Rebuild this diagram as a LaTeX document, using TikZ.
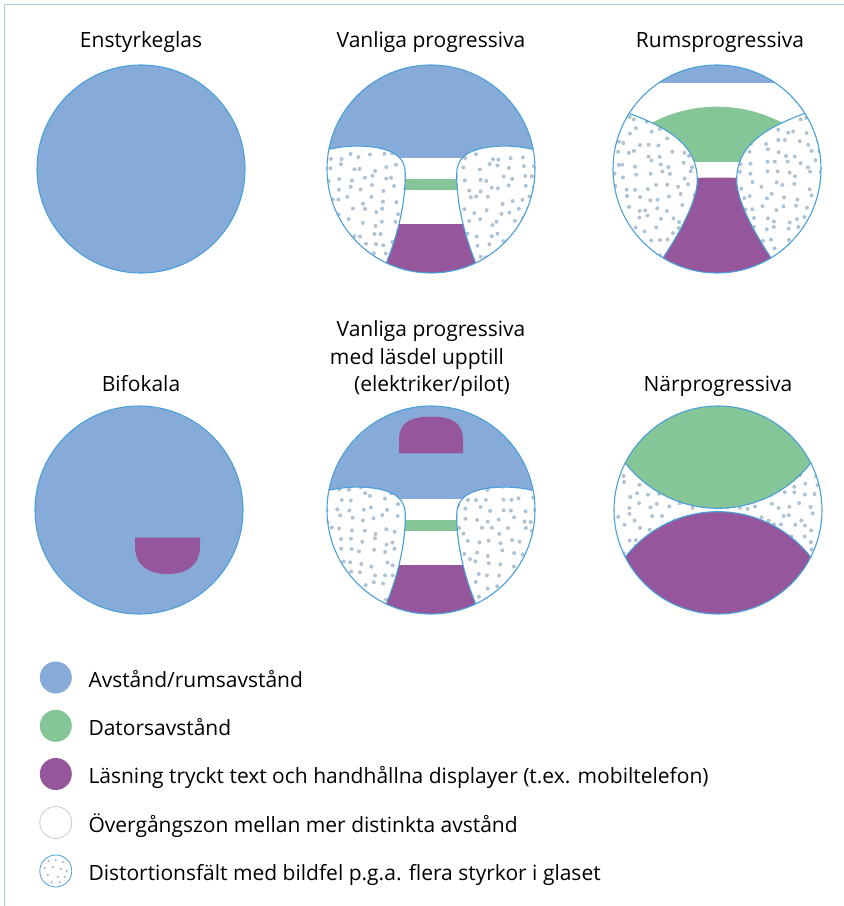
\documentclass[tikz,border=0pt]{standalone}
\usepackage{fontspec}
\setmainfont{Open Sans}
\usetikzlibrary{calc}
\definecolor{lblue}{HTML}{86ABD8}
\definecolor{lgreen}{HTML}{85C698}
\definecolor{lpurple}{HTML}{96569B}
\definecolor{edgec}{HTML}{4A9FD8}
\definecolor{dotc}{HTML}{AFC3D3}
\definecolor{framec}{HTML}{A9C6E3}
\definecolor{greyc}{HTML}{C8C8C8}

% progressive lens (left distortion field), local coordinates, y downwards
\newcommand\pcurve{(-101.7,-19.7) .. controls (-80,-25) and (-50,-24) .. (-36,-15) .. controls (-27,-9) and (-25.5,-2) .. (-25.7,8) .. controls (-26,35) and (-33,65) .. (-44.3,92.7)}
\newcommand\pregion{\pcurve -- (-52,112) -- (-115,112) -- (-115,-21) -- cycle}
% room progressive lens (left distortion field)
\newcommand\rcurve{(-88,-55.7) .. controls (-45,-40) and (-19.7,-22) .. (-19.7,11) .. controls (-19.7,33) and (-40,68) .. (-53.7,88.3)}
\newcommand\rregion{\rcurve -- (-62,112) -- (-115,112) -- (-115,-62) -- cycle}

\newcommand\dotgrid[4]{%
  \foreach \i in {0,...,#3}{\foreach \j in {0,...,#4}{%
    \fill[dotc] ({#1+11*\i+8*rnd},{#2+11*\j+8*rnd}) circle[radius=2pt];}}}

\newcommand\distort[6]{%
  \fill[white] #1;
  \begin{scope}\clip #1; \dotgrid{#3}{#4}{#5}{#6}\end{scope}
  \draw[edgeline] #2;}

\begin{document}
\begin{tikzpicture}[x=1pt,y=-1pt,
  lbl/.style={font=\fontsize{21}{25}\selectfont, inner sep=0pt},
  edgeline/.style={draw=edgec, line width=1.1pt},
  legdot/.style={circle, minimum size=32pt, inner sep=0pt}]
\pgfmathsetseed{4711}
\useasboundingbox (0,0) rectangle (844,906);
\draw[framec, line width=1pt] (4,906) -- (4,4.5) -- (844,4.5);

% ---------- titles
\node[lbl, anchor=base] (t1) at (141,47.5) {Enstyrkeglas};
\node[lbl, anchor=base] (t2) at (431,47.5) {Vanliga progressiva};
\node[lbl, anchor=base] (t3) at (720,47.5) {Rumsprogressiva};
\node[lbl, anchor=base] (t4) at (141,391.5) {Bifokala};
\node[lbl, anchor=base] (t5a) at (431,336.5) {Vanliga progressiva};
\node[lbl, anchor=base] (t5b) at (417,364) {med läsdel upptill};
\node[lbl, anchor=base] (t5c) at (432,391.5) {(elektriker/pilot)};
\node[lbl, anchor=base] (t6) at (718,391.5) {Närprogressiva};

% ---------- lens 1: Enstyrkeglas
\begin{scope}[shift={(141,169)}]
  \fill[lblue] (0,0) circle[radius=104pt];
  \draw[edgeline] (0,0) circle[radius=104pt];
\end{scope}

% ---------- lens 2: Vanliga progressiva
\begin{scope}[shift={(431,169)}]
  \begin{scope}
    \clip (0,0) circle[radius=104pt];
    \fill[white] (-110,-110) rectangle (110,110);
    \fill[lblue] (-110,-110) rectangle (110,-11.3);
    \fill[lgreen] (-40,10) rectangle (40,21);
    \fill[lpurple] (-60,55) rectangle (60,110);
    \distort{\pregion}{\pcurve}{-106}{-28}{8}{11}
    \begin{scope}[xscale=-1]
      \distort{\pregion}{\pcurve}{-106}{-28}{8}{11}
    \end{scope}
  \end{scope}
  \draw[edgeline] (0,0) circle[radius=104pt];
\end{scope}

% ---------- lens 3: Rumsprogressiva
\begin{scope}[shift={(717,169)}]
  \begin{scope}
    \clip (0,0) circle[radius=104pt];
    \fill[white] (-110,-110) rectangle (110,110);
    \fill[lblue] (-110,-110) rectangle (110,-86.3);
    \begin{scope}
      \clip (-110,-110) rectangle (110,-7.3);
      \fill[lgreen] (0,77.5) circle[radius=139.8pt];
    \end{scope}
    \fill[lpurple] (-60,10.5) .. controls (-20,8) and (20,8) .. (60,10.5) -- (60,110) -- (-60,110) -- cycle;
    \distort{\rregion}{\rcurve}{-106}{-64}{8}{14}
    \begin{scope}[xscale=-1]
      \distort{\rregion}{\rcurve}{-106}{-64}{8}{14}
    \end{scope}
  \end{scope}
  \draw[edgeline] (0,0) circle[radius=104pt];
\end{scope}

% ---------- lens 4: Bifokala
\begin{scope}[shift={(139,510)}]
  \fill[lblue] (0,0) circle[radius=104pt];
  \fill[lpurple] (-4,27.7) -- (-4,36) .. controls (-4,56) and (10,64) .. (28.5,64)
     .. controls (47,64) and (61,56) .. (61,36) -- (61,27.7) -- cycle;
  \draw[edgeline] (0,0) circle[radius=104pt];
\end{scope}

% ---------- lens 5: Vanliga progressiva med läsdel upptill
\begin{scope}[shift={(431,510)}]
  \begin{scope}
    \clip (0,0) circle[radius=104pt];
    \fill[white] (-110,-110) rectangle (110,110);
    \fill[lblue] (-110,-110) rectangle (110,-11.3);
    \fill[lpurple] (-32,-56.7) -- (-32,-70) .. controls (-32,-88) and (-20,-93.3) .. (0,-93.3)
       .. controls (20,-93.3) and (32,-88) .. (32,-70) -- (32,-56.7) -- cycle;
    \fill[lgreen] (-40,10) rectangle (40,21);
    \fill[lpurple] (-60,55) rectangle (60,110);
    \distort{\pregion}{\pcurve}{-106}{-28}{8}{11}
    \begin{scope}[xscale=-1]
      \distort{\pregion}{\pcurve}{-106}{-28}{8}{11}
    \end{scope}
  \end{scope}
  \draw[edgeline] (0,0) circle[radius=104pt];
\end{scope}

% ---------- lens 6: Närprogressiva
\begin{scope}[shift={(718,510)}]
  \begin{scope}
    \clip (0,0) circle[radius=104pt];
    \fill[white] (-110,-110) rectangle (110,110);
    \dotgrid{-106}{-52}{19}{9}
    \fill[lgreen] (0,-119.3) circle[radius=117.6pt];
    \fill[lpurple] (0,119.3) circle[radius=117.6pt];
    \draw[edgeline] (0,-119.3) circle[radius=117.6pt];
    \draw[edgeline] (0,119.3) circle[radius=117.6pt];
  \end{scope}
  \draw[edgeline] (0,0) circle[radius=104pt];
\end{scope}

% ---------- legend
\node[legdot, fill=lblue] (k1) at (55.8,677.5) {};
\node[legdot, fill=lgreen] (k2) at (55.8,725.8) {};
\node[legdot, fill=lpurple] (k3) at (55.8,774) {};
\node[legdot, fill=white, draw=greyc, line width=0.8pt] (k4) at (55.8,822.5) {};
\node[legdot, fill=white, draw=edgec, line width=0.8pt] (k5) at (55.8,871) {};
\foreach \dx/\dy in {-7/-10,0/-11,7/-9,-11/-3,-3/-4,5/-2,11/0,-8/4,2/6,9/6,-4/11,4/11}
  \fill[dotc] ($(k5)+(\dx,\dy)$) circle[radius=1.4pt];
\node[lbl, anchor=base west] (l1) at (88.3,687.3) {Avstånd/rumsavstånd};
\node[lbl, anchor=base west] (l2) at (88.3,735.6) {Datorsavstånd};
\node[lbl, anchor=base west] (l3) at (88.3,783.8) {Läsning tryckt text och handhållna displayer (t.ex. mobiltelefon)};
\node[lbl, anchor=base west] (l4) at (88.3,832.3) {Övergångszon mellan mer distinkta avstånd};
\node[lbl, anchor=base west] (l5) at (88.3,880.8) {Distortionsfält med bildfel p.g.a. flera styrkor i glaset};
\end{tikzpicture}
\end{document}
